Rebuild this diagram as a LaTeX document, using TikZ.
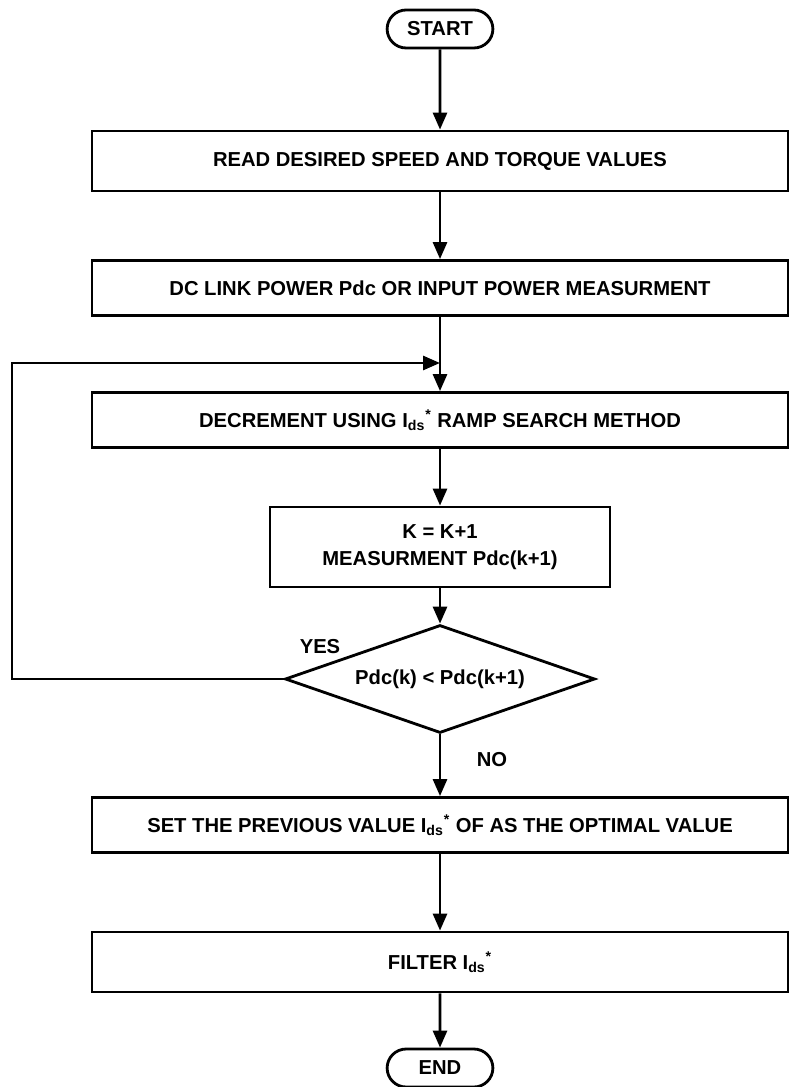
\documentclass[tikz,border=0pt]{standalone}
\usepackage{fontspec}
\setmainfont{Liberation Sans}
\usetikzlibrary{shapes.geometric,shapes.misc,arrows.meta}
\newcommand{\Ids}{I\textsubscript{ds}\textsuperscript{*}}
\begin{document}
\begin{tikzpicture}[x=0.02cm,y=-0.02cm]
	\tikzstyle{box} = [draw, line width=1.6pt, minimum width=13.92cm, minimum height=1.1cm,
			inner sep=0, font=\fontsize{11.5}{15}\selectfont\bfseries, align=center]
	\tikzstyle{term} = [draw, rounded rectangle, line width=1.6pt, minimum width=2.35cm,
			minimum height=0.76cm, font=\fontsize{11.5}{13}\selectfont\bfseries]
	\tikzstyle{decision} = [draw, diamond, aspect=3, line width=1.6pt, minimum width=6.2cm,
			minimum height=2.16cm, inner sep=0, font=\fontsize{11.5}{13}\selectfont\bfseries]
	\tikzstyle{arrow} = [-{Triangle[length=0.34cm,width=0.28cm]}, line width=1.6pt]
	\tikzstyle{answer} = [inner sep=1pt, font=\fontsize{11.5}{13}\selectfont\bfseries]

	\useasboundingbox (0,0) rectangle (791,1087);

	\node [term] (start) at (440,29) {START};
	\node [box, minimum height=1.2cm] (read) at (440,161) {READ DESIRED SPEED AND TORQUE VALUES};
	\node [box] (power) at (440,288) {DC LINK POWER Pdc OR INPUT POWER MEASURMENT};
	\node [box] (decrement) at (440,420) {DECREMENT USING \Ids{} RAMP SEARCH METHOD};
	\node [box, minimum width=6.8cm, minimum height=1.6cm] (count) at (440,547) {K = K+1\\MEASURMENT Pdc(k+1)};
	\node [decision] (compare) at (440,679) {Pdc(k) < Pdc(k+1)};
	\node [box] (optimal) at (440,825) {SET THE PREVIOUS VALUE \Ids{} OF AS THE OPTIMAL VALUE};
	\node [box, minimum height=1.2cm] (filter) at (440,962) {FILTER \Ids};
	\node [term] (end) at (440,1068) {END};
	\coordinate (join) at (440,363);
	\coordinate (corner) at (12,363);

	\draw [arrow] (start) -- (read);
	\draw [arrow] (read) -- (power);
	\draw [line width=1.6pt] (power) -- (join);
	\draw [arrow] (join) -- (decrement);
	\draw [arrow] (decrement) -- (count);
	\draw [arrow] (count) -- (compare);
	\draw [arrow] (compare.west) -- (compare.west -| corner) -- (corner) -- (join);
	\node [answer] (yes) at (320,647) {YES};
	\draw [arrow] (compare) -- (optimal);
	\node [answer] (no) at (492,760) {NO};
	\draw [arrow] (optimal) -- (filter);
	\draw [arrow] (filter) -- (end);
\end{tikzpicture}
\end{document}
